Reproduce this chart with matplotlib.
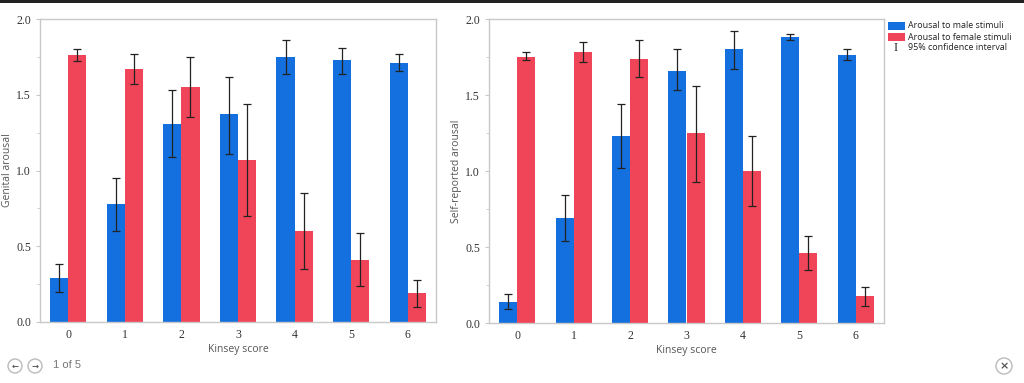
import matplotlib.pyplot as plt
import matplotlib.patches as patches
import numpy as np
from matplotlib.ticker import MultipleLocator

kinsey = [0, 1, 2, 3, 4, 5, 6]

# genital arousal (left panel)
gen_male = [0.29, 0.78, 1.31, 1.37, 1.75, 1.73, 1.71]
gen_male_lo = [0.20, 0.60, 1.09, 1.11, 1.64, 1.64, 1.66]
gen_male_hi = [0.38, 0.95, 1.53, 1.62, 1.86, 1.81, 1.77]
gen_female = [1.76, 1.67, 1.55, 1.07, 0.60, 0.41, 0.19]
gen_female_lo = [1.72, 1.57, 1.35, 0.70, 0.35, 0.24, 0.10]
gen_female_hi = [1.80, 1.77, 1.75, 1.44, 0.85, 0.59, 0.28]

# self-reported arousal (right panel)
self_male = [0.14, 0.69, 1.23, 1.66, 1.80, 1.88, 1.76]
self_male_lo = [0.09, 0.54, 1.02, 1.53, 1.67, 1.86, 1.73]
self_male_hi = [0.19, 0.84, 1.44, 1.80, 1.92, 1.90, 1.80]
self_female = [1.75, 1.78, 1.74, 1.25, 1.00, 0.46, 0.18]
self_female_lo = [1.73, 1.72, 1.62, 0.93, 0.77, 0.35, 0.11]
self_female_hi = [1.78, 1.85, 1.86, 1.56, 1.23, 0.57, 0.24]

BLUE = "#1470de"
RED = "#f04558"
W = 0.32
serif = "Liberation Serif"
sans = "Open Sans"

fig = plt.figure(figsize=(10.24, 3.83), dpi=100)
fig.patch.set_facecolor("white")


def panel(rect, male, mlo, mhi, female, flo, fhi, ylabel):
    ax = fig.add_axes(rect)
    x = np.array(kinsey)
    male, female = np.array(male), np.array(female)
    merr = [male - np.array(mlo), np.array(mhi) - male]
    ferr = [female - np.array(flo), np.array(fhi) - female]
    ekw = dict(ecolor="#222222", elinewidth=0.9, capsize=3.2, capthick=0.9)
    ax.bar(x - W / 2, male, W, color=BLUE, yerr=merr, error_kw=ekw, zorder=2)
    ax.bar(x + W / 2, female, W, color=RED, yerr=ferr, error_kw=ekw, zorder=2)
    ax.set_xlim(-0.5, 6.5)
    ax.set_ylim(0, 2.0)
    ax.set_xticks(kinsey)
    ax.set_yticks([0, 0.5, 1.0, 1.5, 2.0])
    ax.set_yticklabels(["0.0", "0.5", "1.0", "1.5", "2.0"])
    ax.yaxis.set_minor_locator(MultipleLocator(0.25))
    for s in ax.spines.values():
        s.set_color("#c8c8c8")
        s.set_linewidth(1.0)
    ax.tick_params(axis="both", colors="#c8c8c8", labelcolor="#333333",
                   labelsize=8.5, length=3, width=0.8)
    ax.tick_params(axis="y", which="minor", colors="#c8c8c8", length=2)
    ax.tick_params(axis="x", length=0, pad=5)
    for lab in ax.get_xticklabels() + ax.get_yticklabels():
        lab.set_fontfamily(serif)
    ax.set_xlabel("Kinsey score", fontsize=7.5, color="#555555",
                  family=sans, labelpad=2)
    ax.set_ylabel(ylabel, fontsize=7.5, color="#555555", family=sans,
                  labelpad=2)
    return ax


H = 383.0
Wd = 1024.0
ax1 = panel([40 / Wd, (H - 322) / H, 396 / Wd, 303 / H],
            gen_male, gen_male_lo, gen_male_hi,
            gen_female, gen_female_lo, gen_female_hi, "Genital arousal")
ax2 = panel([489 / Wd, (H - 323) / H, 395 / Wd, 304 / H],
            self_male, self_male_lo, self_male_hi,
            self_female, self_female_lo, self_female_hi, "Self-reported arousal")

# legend
leg_items = [("Arousal to male stimuli", BLUE),
             ("Arousal to female stimuli", RED)]
for i, (txt, c) in enumerate(leg_items):
    y = H - 26 - i * 11
    fig.patches.append(patches.Rectangle((888 / Wd, (y - 4) / H), 17 / Wd, 8 / H,
                                         transform=fig.transFigure,
                                         facecolor=c, edgecolor="none"))
    fig.text(908 / Wd, y / H, txt, fontsize=6.4, family=sans,
             color="#222222", va="center")
y = H - 48
fig.text(896 / Wd, y / H, "I", fontsize=9, family=serif, color="#222222",
         va="center", ha="center")
fig.text(908 / Wd, y / H, "95% confidence interval", fontsize=6.4,
         family=sans, color="#222222", va="center")

# top border
fig.patches.append(patches.Rectangle((0, (H - 3) / H), 1, 3 / H,
                                     transform=fig.transFigure,
                                     facecolor="#222222", edgecolor="none"))


def circle_button(cx, cy, r, sym, size):
    fig.patches.append(patches.Ellipse((cx / Wd, (H - cy) / H), 2 * r / Wd,
                                       2 * r / H, transform=fig.transFigure,
                                       facecolor="white", edgecolor="#bbbbbb",
                                       linewidth=1.0))
    fig.text(cx / Wd, (H - cy) / H, sym, fontsize=size, ha="center",
             va="center", color="#555555", fontweight="bold")


# bottom navigation
circle_button(15, 366, 7, "\u2190", 6)
circle_button(35, 366, 7, "\u2192", 6)
fig.text(53 / Wd, (H - 365) / H, "1 of 5", fontsize=8, family="Liberation Sans",
         color="#777777", va="center")
circle_button(1004, 366, 8, "\u00d7", 8)

fig.savefig("out.png", dpi=100)
